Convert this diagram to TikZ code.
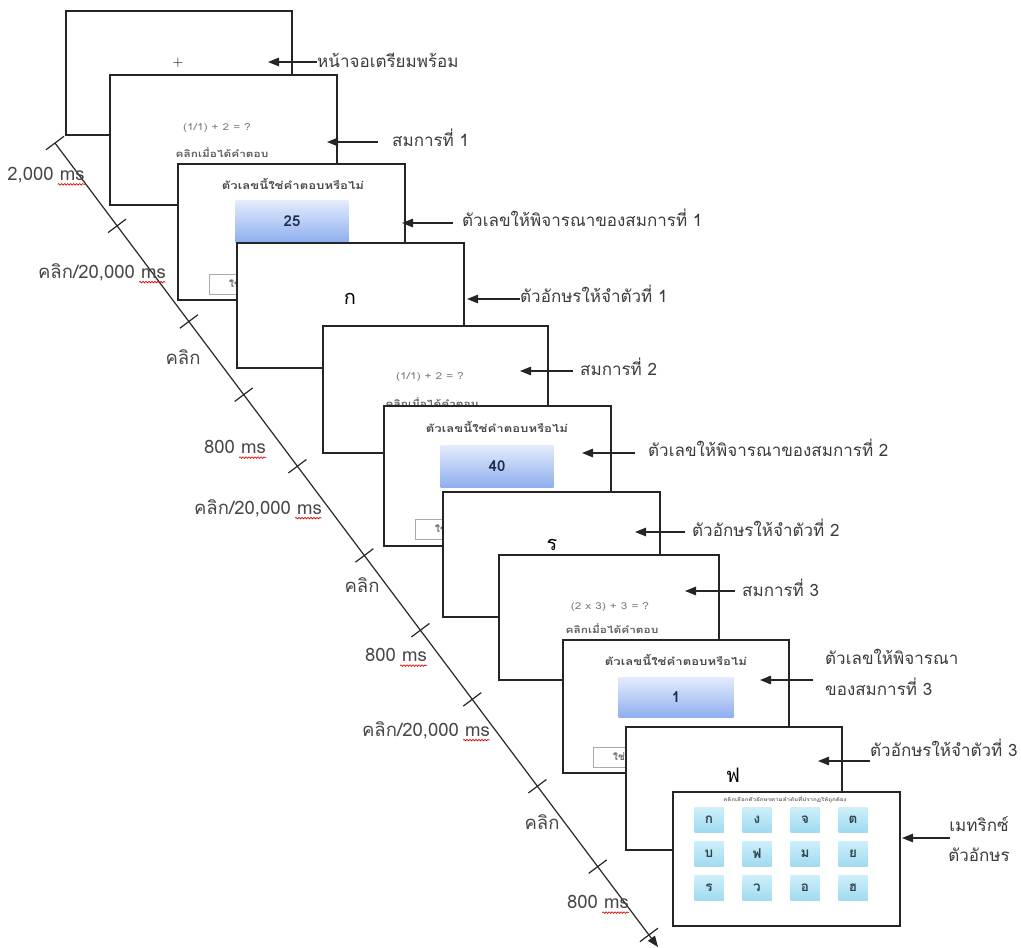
\documentclass[tikz,border=0pt]{standalone}
\usepackage{fontspec}
\newfontfamily\thai[Script=Thai]{Loma}
\newfontfamily\thaiwide[Script=Thai, FakeStretch=1.25]{Loma}
\usetikzlibrary{arrows.meta,calc,decorations.pathmorphing}

\definecolor{ink}{HTML}{252525}
\definecolor{eqgray}{HTML}{7A7A7A}
\definecolor{hintgray}{HTML}{5E5E5E}
\definecolor{navy}{HTML}{1E2B4A}
\definecolor{boxtop}{HTML}{E4ECFC}
\definecolor{boxbot}{HTML}{8FAFF0}
\definecolor{celltop}{HTML}{CDEFFA}
\definecolor{cellbot}{HTML}{A0DAF0}
\definecolor{cellink}{HTML}{34444F}
\definecolor{btngray}{HTML}{ABABAB}

\tikzset{
  screen/.style={draw=ink, line width=1.5pt, fill=white, anchor=north west, inner sep=0pt},
  ptr/.style={-{Triangle[length=11pt,width=8.5pt]}, line width=1.3pt, ink},
  lbl/.style={font=\thai\fontsize{17}{21}\selectfont, text=ink!90, inner sep=0pt, anchor=west},
  tlbl/.style={font=\thai\fontsize{18.5}{22}\selectfont, text=black!72, inner sep=0pt},
  eqtext/.style={font=\thaiwide\fontsize{9.5}{11}\selectfont, text=eqgray, inner sep=0pt},
  hint/.style={font=\thaiwide\bfseries\fontsize{9.5}{11}\selectfont, text=hintgray, inner sep=0pt},
  qtitle/.style={font=\thaiwide\bfseries\fontsize{10.5}{12}\selectfont, text=black!70, inner sep=0pt},
  numbox/.style={top color=boxtop, bottom color=boxbot, draw=none, inner sep=0pt,
    minimum width=113pt, minimum height=42pt, font=\thai\bfseries\fontsize{15}{17}\selectfont, text=navy},
  btn/.style={draw=btngray, line width=1.1pt, fill=white, anchor=north west, inner sep=0pt,
    minimum width=56pt, minimum height=20pt},
  btntext/.style={font=\thai\bfseries\fontsize{10}{12}\selectfont, text=black!60, inner sep=0pt, anchor=west},
  letter/.style={font=\thai\fontsize{20}{23}\selectfont, text=black, inner sep=0pt},
  cell/.style={top color=celltop, bottom color=cellbot, draw=none, inner sep=0pt,
    minimum width=29pt, minimum height=25pt, font=\thai\bfseries\fontsize{13.5}{15}\selectfont, text=cellink},
  wavy/.style={red!85!black, line width=0.6pt, decorate,
    decoration={snake, amplitude=0.8pt, segment length=3pt}}
}

\begin{document}
\begin{tikzpicture}[x=1pt, y=-1pt]
\useasboundingbox (0,0) rectangle (1021,948);

% ---------- time axis ----------
\coordinate (ts) at (55,143);
\coordinate (te) at (658,947);
\draw[line width=1.2pt, ink, -{Triangle[length=11pt,width=8.5pt]}] (ts) -- (te);
\foreach \t in {0,0.103,0.222,0.313,0.402,0.513,0.606,0.692,0.800,0.900,0.985}
  \draw[line width=1.2pt, ink] ($(ts)!\t!(te)$) +(-9,6.75) -- +(9,-6.75);

% ---------- screens ----------
% fixation
\node[screen, minimum width=226pt, minimum height=124pt] (s1) at (65,10) {};
\node[font=\fontsize{15}{17}\selectfont, text=black, inner sep=0pt] (fix) at (178,63) {+};

% equation 1
\node[screen, minimum width=227pt, minimum height=130pt] (s2) at (109,74) {};
\node[eqtext] (e1) at (217,128) {(1/1) + 2 = ?};
\node[hint] (h1) at (222,153) {คลิกเมื่อได้คำตอบ};

% candidate number 1
\node[screen, minimum width=227pt, minimum height=136pt] (s3) at (177,163) {};
\node[qtitle] (q1) at (293,184) {ตัวเลขนี้ใช่คำตอบหรือไม่};
\node[numbox] (n1) at (292,221) {25};
\node[btn] (b1) at (209,274) {};
\node[btntext] (bt1) at (229,284) {ใช่};

% letter 1
\node[screen, minimum width=227pt, minimum height=125pt] (s4) at (236,242) {};
\node[letter] (l1) at (350,299) {ก};

% equation 2
\node[screen, minimum width=225pt, minimum height=127pt] (s5) at (322,325) {};
\node[eqtext] (e2) at (430,377) {(1/1) + 2 = ?};
\node[hint] (h2) at (432,403) {คลิกเมื่อได้คำตอบ};

% candidate number 2
\node[screen, minimum width=227pt, minimum height=140pt] (s6) at (383,405) {};
\node[qtitle] (q2) at (497,427) {ตัวเลขนี้ใช่คำตอบหรือไม่};
\node[numbox] (n2) at (497,466) {40};
\node[btn] (b2) at (415,519) {};
\node[btntext] (bt2) at (435,529) {ใช่};

% letter 2
\node[screen, minimum width=217pt, minimum height=125pt] (s7) at (442,491) {};
\node[letter] (l2) at (552,545) {ร};

% equation 3
\node[screen, minimum width=220pt, minimum height=125pt] (s8) at (498,554) {};
\node[eqtext] (e3) at (610,607) {(2 x 3) + 3 = ?};
\node[hint] (h3) at (612,629) {คลิกเมื่อได้คำตอบ};

% candidate number 3
\node[screen, minimum width=226pt, minimum height=133pt] (s9) at (562,639) {};
\node[qtitle] (q3) at (676,660) {ตัวเลขนี้ใช่คำตอบหรือไม่};
\node[numbox, minimum width=115pt, minimum height=40pt] (n3) at (676,697) {1};
\node[btn] (b3) at (593,747) {};
\node[btntext] (bt3) at (613,757) {ใช่};

% letter 3
\node[screen, minimum width=216pt, minimum height=123pt] (s10) at (625,726) {};
\node[letter] (l3) at (733,775) {ฟ};

% recall matrix
\node[screen, minimum width=227pt, minimum height=134pt] (s11) at (672,791) {};
\node[font=\thaiwide\bfseries\fontsize{5}{6}\selectfont, text=black!60, inner sep=0pt] (mt) at (785,800)
  {คลิกเลือกตัวอักษรตามลำดับที่ปรากฏให้ถูกต้อง};
\foreach \ch [count=\i from 0] in {ก,ง,จ,ต,บ,ฟ,ม,ย,ร,ว,อ,ฮ}{
  \pgfmathtruncatemacro{\col}{mod(\i,4)}
  \pgfmathtruncatemacro{\row}{div(\i,4)}
  \node[cell] (m\i) at ({709+48*\col},{820+34*\row}) {\ch};
}

% ---------- pointers and captions ----------
\coordinate (p1) at (268,62);  \coordinate (t1) at (317,62);
\coordinate (p2) at (327,142); \coordinate (t2) at (378,142);
\coordinate (p3) at (402,223); \coordinate (t3) at (453,223);
\coordinate (p4) at (467,299); \coordinate (t4) at (520,299);
\coordinate (p5) at (520,371); \coordinate (t5) at (573,371);
\coordinate (p6) at (582,453); \coordinate (t6) at (635,453);
\coordinate (p7) at (635,532); \coordinate (t7) at (685,532);
\coordinate (p8) at (685,591); \coordinate (t8) at (735,591);
\coordinate (p9) at (760,680); \coordinate (t9) at (813,680);
\coordinate (p10) at (818,761); \coordinate (t10) at (870,761);
\coordinate (p11) at (902,838); \coordinate (t11) at (950,838);
\foreach \k in {1,...,11} \draw[ptr] (t\k) -- (p\k);

\node[lbl] (c1) at (317,60) {หน้าจอเตรียมพร้อม};
\node[lbl] (c2) at (392,138) {สมการที่ 1};
\node[lbl] (c3) at (462,218) {ตัวเลขให้พิจารณาของสมการที่ 1};
\node[lbl] (c4) at (520,294) {ตัวอักษรให้จำตัวที่ 1};
\node[lbl] (c5) at (580,367) {สมการที่ 2};
\node[lbl] (c6) at (648,448) {ตัวเลขให้พิจารณาของสมการที่ 2};
\node[lbl] (c7) at (692,528) {ตัวอักษรให้จำตัวที่ 2};
\node[lbl] (c8) at (742,588) {สมการที่ 3};
\node[lbl, align=left, font=\thai\fontsize{17}{31}\selectfont] (c9) at (825,672) {ตัวเลขให้พิจารณา\\ของสมการที่ 3};
\node[lbl] (c10) at (870,748) {ตัวอักษรให้จำตัวที่ 3};
\node[lbl, anchor=center, align=center, font=\thai\fontsize{17}{30}\selectfont] (c11) at (979,839) {เมทริกซ์\\ตัวอักษร};

% ---------- durations along the axis ----------
\node[tlbl] (d1) at (46,175) {2,000 ms};
\node[tlbl] (d2) at (102,272) {คลิก/20,000 ms};
\node[tlbl] (d3) at (183,357) {คลิก};
\node[tlbl] (d4) at (235,447) {800 ms};
\node[tlbl] (d5) at (258,508) {คลิก/20,000 ms};
\node[tlbl] (d6) at (362,585) {คลิก};
\node[tlbl] (d7) at (396,655) {800 ms};
\node[tlbl] (d8) at (426,730) {คลิก/20,000 ms};
\node[tlbl] (d9) at (542,822) {คลิก};
\node[tlbl] (d10) at (598,902) {800 ms};
\foreach \d in {d1,d2,d4,d5,d7,d8,d10}
  \draw[wavy] ([xshift=-27pt,yshift=-4pt]\d.base east) -- ([yshift=-4pt]\d.base east);
\end{tikzpicture}
\end{document}
